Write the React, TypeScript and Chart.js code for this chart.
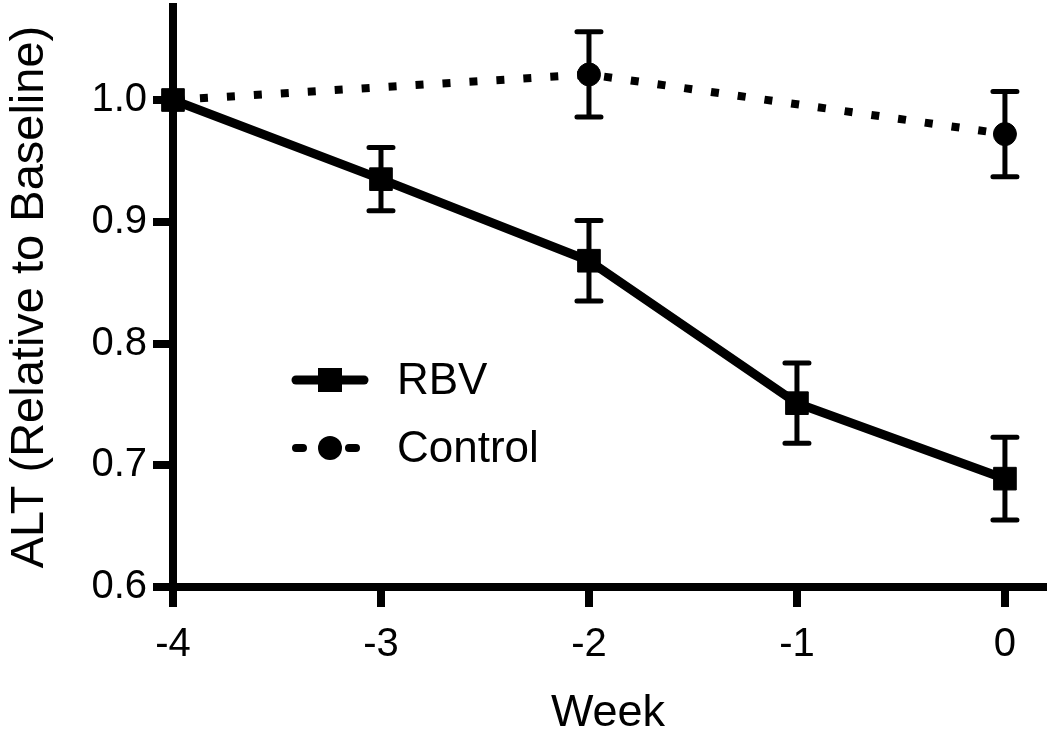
import React, { useEffect, useRef } from "react";
import { Chart, registerables } from "chart.js";

Chart.register(...registerables);

// ---- data ----
const weeks = [-4, -3, -2, -1, 0];
const rbvMean = [1.0, 0.935, 0.868, 0.751, 0.689];
const rbvSem = [0, 0.026, 0.033, 0.033, 0.034];
const controlWeeks = [-4, -2, 0];
const controlMean = [1.0, 1.021, 0.972];
const controlSem = [0, 0.035, 0.035];
const yTicks = [0.6, 0.7, 0.8, 0.9, 1.0];
const xTicks = [-4, -3, -2, -1, 0];
const seriesLabels = ["RBV", "Control"];
const xTitle = "Week";
const yTitle = "ALT (Relative to Baseline)";

const FONT = "'Liberation Sans', Arial, Helvetica, sans-serif";

const errorBarPlugin = {
  id: "errorBars",
  afterDatasetsDraw(chart: any) {
    const ctx = chart.ctx;
    const xs = chart.scales.x;
    const ys = chart.scales.y;
    const sets = [
      { x: weeks, m: rbvMean, s: rbvSem },
      { x: controlWeeks, m: controlMean, s: controlSem },
    ];
    ctx.save();
    ctx.strokeStyle = "#000";
    ctx.lineWidth = 5;
    ctx.lineCap = "round";
    for (const set of sets) {
      set.x.forEach((xv: number, i: number) => {
        if (!set.s[i]) return;
        const px = xs.getPixelForValue(xv);
        const top = ys.getPixelForValue(set.m[i] + set.s[i]);
        const bot = ys.getPixelForValue(set.m[i] - set.s[i]);
        ctx.beginPath();
        ctx.moveTo(px, top);
        ctx.lineTo(px, bot);
        ctx.moveTo(px - 12, top);
        ctx.lineTo(px + 12, top);
        ctx.moveTo(px - 12, bot);
        ctx.lineTo(px + 12, bot);
        ctx.stroke();
      });
    }
    ctx.restore();
  },
};

const legendPlugin = {
  id: "customLegend",
  afterDraw(chart: any) {
    const ctx = chart.ctx;
    ctx.save();
    ctx.fillStyle = "#000";
    ctx.strokeStyle = "#000";
    ctx.lineCap = "round";
    // RBV
    const y1 = 380;
    ctx.lineWidth = 9;
    ctx.beginPath();
    ctx.moveTo(296, y1);
    ctx.lineTo(364, y1);
    ctx.stroke();
    ctx.fillRect(318, y1 - 12, 24, 24);
    // Control
    const y2 = 448;
    ctx.lineWidth = 8;
    ctx.beginPath();
    ctx.moveTo(296, y2);
    ctx.lineTo(303, y2);
    ctx.moveTo(349, y2);
    ctx.lineTo(356, y2);
    ctx.stroke();
    ctx.beginPath();
    ctx.arc(330, y2, 12, 0, Math.PI * 2);
    ctx.fill();
    ctx.font = `44px ${FONT}`;
    ctx.textBaseline = "middle";
    ctx.textAlign = "left";
    ctx.fillText(seriesLabels[0], 397, y1 + 2);
    ctx.fillText(seriesLabels[1], 397, y2 + 2);
    ctx.restore();
  },
};

export default function App() {
  const ref = useRef<HTMLCanvasElement | null>(null);
  useEffect(() => {
    if (!ref.current) return;
    const chart = new Chart(ref.current, {
      type: "line",
      data: {
        datasets: [
          {
            label: seriesLabels[0],
            data: weeks.map((w, i) => ({ x: w, y: rbvMean[i] })),
            borderColor: "#000",
            backgroundColor: "#000",
            borderWidth: 9,
            pointStyle: "rect",
            pointRadius: 16,
            pointBorderWidth: 1,
            pointBackgroundColor: "#000",
            pointBorderColor: "#000",
            clip: false,
          } as any,
          {
            label: seriesLabels[1],
            data: controlWeeks.map((w, i) => ({ x: w, y: controlMean[i] })),
            borderColor: "#000",
            backgroundColor: "#000",
            borderWidth: 8,
            borderDash: [8, 19],
            borderCapStyle: "butt",
            pointStyle: "circle",
            pointRadius: 11.5,
            pointBorderWidth: 1,
            pointBackgroundColor: "#000",
            pointBorderColor: "#000",
            clip: false,
          } as any,
        ],
      },
      options: {
        responsive: false,
        animation: false,
        events: [],
        layout: { autoPadding: false, padding: { left: 0, top: 7, right: 7, bottom: 0 } },
        plugins: { legend: { display: false }, tooltip: { enabled: false } },
        scales: {
          x: {
            type: "linear",
            min: -4,
            max: 0.183,
            afterBuildTicks: (s: any) => {
              s.ticks = xTicks.map((v) => ({ value: v }));
            },
            afterFit: (s: any) => {
              s.height = 144;
              s.paddingLeft = 0;
              s.paddingRight = 0;
              s.paddingTop = 0;
              s.paddingBottom = 0;
            },
            border: { display: true, color: "#000", width: 8 },
            grid: {
              display: true,
              drawOnChartArea: false,
              drawTicks: true,
              tickLength: 20,
              lineWidth: 8,
              color: "#000",
              tickColor: "#000",
            },
            ticks: {
              color: "#000",
              padding: 14,
              font: { family: FONT, size: 40 },
              callback: (v: any) => String(v),
            },
            title: {
              display: true,
              text: xTitle,
              color: "#000",
              font: { family: FONT, size: 45, lineHeight: 0.9 },
              padding: { top: 0, bottom: -3 },
            },
          },
          y: {
            type: "linear",
            min: 0.6,
            max: 1.0764,
            afterBuildTicks: (s: any) => {
              s.ticks = yTicks.map((v) => ({ value: v }));
            },
            afterFit: (s: any) => {
              s.width = 173;
              s.paddingLeft = 0;
              s.paddingRight = 0;
              s.paddingTop = 0;
              s.paddingBottom = 0;
            },
            border: { display: true, color: "#000", width: 8 },
            grid: {
              display: true,
              drawOnChartArea: false,
              drawTicks: true,
              tickLength: 20,
              lineWidth: 8,
              color: "#000",
              tickColor: "#000",
            },
            ticks: {
              color: "#000",
              padding: 6,
              font: { family: FONT, size: 40 },
              callback: (v: any) => Number(v).toFixed(1),
            },
            title: {
              display: true,
              text: yTitle,
              color: "#000",
              font: { family: FONT, size: 47 },
              padding: { top: 2, bottom: 0 },
            },
          },
        },
      },
      plugins: [errorBarPlugin, legendPlugin],
    } as any);
    return () => chart.destroy();
  }, []);
  return (
    <div style={{ position: "fixed", left: 0, top: 0, width: 1050, height: 731, background: "#fff" }}>
      <canvas ref={ref} width={1050} height={731} style={{ width: 1050, height: 731, display: "block" }} />
    </div>
  );
}
